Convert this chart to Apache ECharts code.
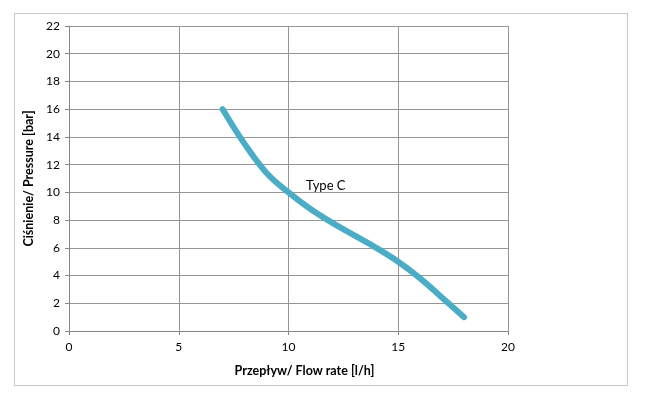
<!DOCTYPE html>
<html><head><meta charset="utf-8">
<script src="https://cdn.jsdelivr.net/npm/echarts@6/dist/echarts.min.js"></script>
<style>html,body{margin:0;padding:0;background:#fff}#c{width:646px;height:393px}
#frame{position:absolute;left:14px;top:13px;width:614px;height:373px;border:1px solid #c8c8c8;box-sizing:border-box;pointer-events:none}</style>
</head><body><div id="c"></div><div id="frame"></div>
<script>
const flowRate = [7, 8, 9, 10, 11, 12, 13, 14, 15, 16, 17, 18];
const pressure = [16, 13.5, 11.4, 10, 8.8, 7.8, 6.9, 6.0, 5.0, 3.8, 2.4, 1.0];
const seriesName = 'Type C';
const labelPos = [11.7, 10.5];
const font = 'Lato, "Open Sans", sans-serif';
const chart = echarts.init(document.getElementById('c'));
chart.setOption({
  animation: false,
  grid: {left: 69, right: 138, top: 26, bottom: 62},
  xAxis: {
    type: 'value', min: 0, max: 20, interval: 5,
    name: 'Przepływ/ Flow rate [l/h]', nameLocation: 'middle', nameGap: 33,
    nameTextStyle: {fontFamily: font, fontSize: 12.5, fontWeight: 'bold', color: '#000', padding: [0, 0, 0, 32]},
    axisLine: {show: true, lineStyle: {color: '#868686'}},
    axisTick: {show: true, length: 4, lineStyle: {color: '#868686'}},
    axisLabel: {fontFamily: font, fontSize: 12, color: '#000', margin: 10},
    splitLine: {show: true, lineStyle: {color: '#969696', width: 1}}
  },
  yAxis: {
    type: 'value', min: 0, max: 22, interval: 2,
    name: 'Ciśnienie/ Pressure [bar]', nameLocation: 'middle', nameGap: 30,
    nameTextStyle: {fontFamily: font, fontSize: 12.5, fontWeight: 'bold', color: '#000'},
    axisLine: {show: true, lineStyle: {color: '#868686'}},
    axisTick: {show: true, length: 4, lineStyle: {color: '#868686'}},
    axisLabel: {fontFamily: font, fontSize: 12, color: '#000', margin: 9},
    splitLine: {show: true, lineStyle: {color: '#969696', width: 1}}
  },
  series: [{
    name: seriesName, type: 'line', smooth: 0.4, showSymbol: false,
    data: flowRate.map((x, i) => [x, pressure[i]]),
    lineStyle: {color: '#4BACC6', width: 6, cap: 'round'},
    markPoint: {
      symbol: 'circle', symbolSize: 0,
      data: [{coord: labelPos, label: {show: true, formatter: seriesName, fontFamily: font, fontSize: 13, color: '#000', position: 'inside'}}]
    }
  }]
});
</script></body></html>
